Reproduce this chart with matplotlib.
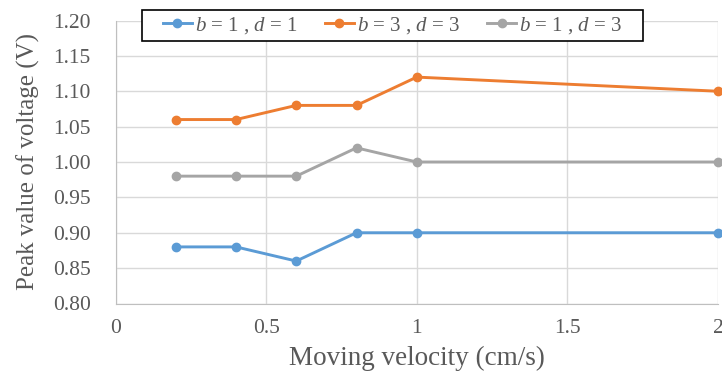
import matplotlib.pyplot as plt
from matplotlib.patches import Rectangle

plt.rcParams['font.family'] = ['Liberation Serif', 'DejaVu Serif']
plt.rcParams['mathtext.fontset'] = 'custom'
plt.rcParams['mathtext.it'] = 'Liberation Serif:italic'
plt.rcParams['mathtext.rm'] = 'Liberation Serif'

velocity = [0.2, 0.4, 0.6, 0.8, 1.0, 2.0]
b1_d1 = [0.88, 0.88, 0.86, 0.90, 0.90, 0.90]
b3_d3 = [1.06, 1.06, 1.08, 1.08, 1.12, 1.10]
b1_d3 = [0.98, 0.98, 0.98, 1.02, 1.00, 1.00]
labels = ['$b$ = 1 , $d$ = 1', '$b$ = 3 , $d$ = 3', '$b$ = 1 , $d$ = 3']
colors = ['#5B9BD5', '#ED7D31', '#A5A5A5']
xticks = [0, 0.5, 1, 1.5, 2]
xticklabels = ['0', '0.5', '1', '1.5', '2']
yticks = [0.80, 0.85, 0.90, 0.95, 1.00, 1.05, 1.10, 1.15, 1.20]

W, H = 722, 381
fig = plt.figure(figsize=(W / 100, H / 100), dpi=100)
ax = fig.add_axes([115.5 / W, 1 - 303.5 / H, 602.5 / W, 283 / H])

for ys, lab, c in zip([b1_d1, b3_d3, b1_d3], labels, colors):
    ax.plot(velocity, ys, color=c, lw=2.1, marker='o', ms=6, label=lab,
            clip_on=False, zorder=3)

ax.set_xlim(0, 2)
ax.set_ylim(0.80, 1.20)
ax.set_xticks(xticks)
ax.set_xticklabels(xticklabels)
ax.set_yticks(yticks)
ax.set_yticklabels([f'{v:.2f}' for v in yticks])
ax.grid(True, color='#D9D9D9', lw=1)
ax.set_axisbelow(True)
for s in ['top', 'right']:
    ax.spines[s].set_visible(False)
for s in ['left', 'bottom']:
    ax.spines[s].set_color('#BFBFBF')
ax.tick_params(length=0, labelsize=15.5, colors='#595959')
ax.tick_params(axis='y', pad=18)
ax.tick_params(axis='x', pad=11)

ax.set_ylabel('Peak value of voltage (V)', fontsize=18, color='#595959', labelpad=9)
ax.set_xlabel('Moving velocity (cm/s)', fontsize=19.5, color='#595959', labelpad=6)

# legend box drawn separately, entries centred in it
fig.patches.append(Rectangle((142 / W, 1 - 41 / H), 501 / W, 31 / H,
                             transform=fig.transFigure, facecolor='white',
                             edgecolor='black', lw=1.2, zorder=5))
leg = fig.legend(loc='center', bbox_to_anchor=(392.5 / W, 1 - 25.5 / H), ncol=3,
                 fontsize=15, frameon=False, borderaxespad=0, borderpad=0,
                 handlelength=1.4, columnspacing=1.3, handletextpad=0.15)
leg.set_zorder(6)
for t in leg.get_texts():
    t.set_color('#595959')

fig.savefig('out.png', dpi=100)
